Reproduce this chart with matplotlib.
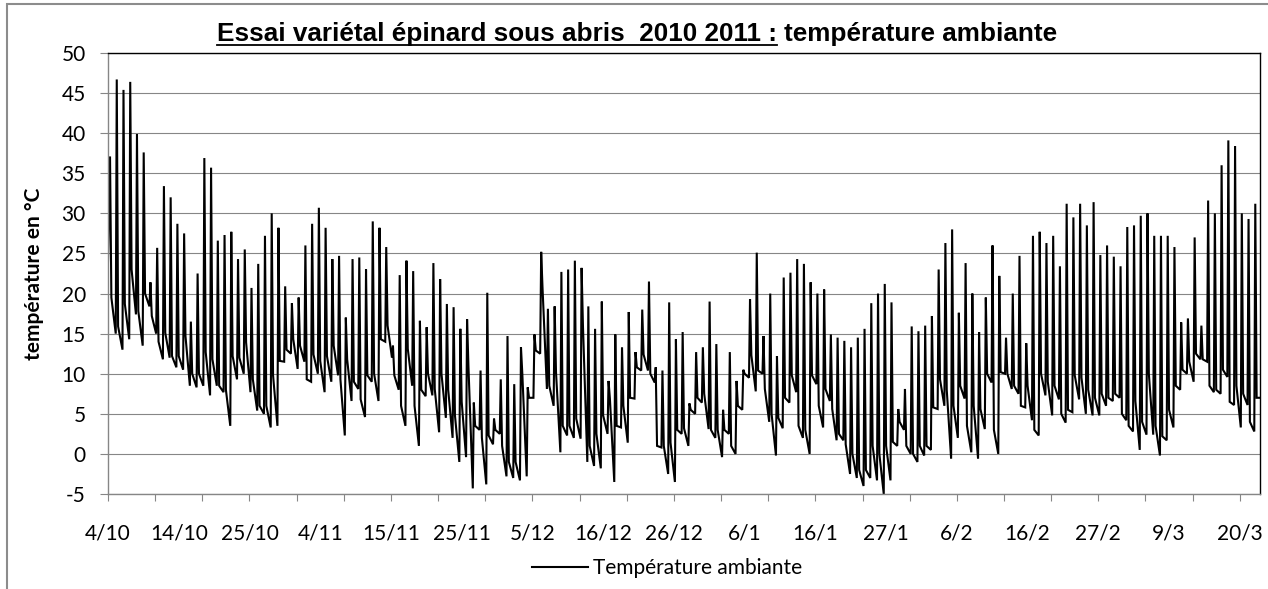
import numpy as np
import matplotlib
matplotlib.use('Agg')
import matplotlib.pyplot as plt
from matplotlib.lines import Line2D
from matplotlib.patches import Rectangle

W, H = 1268, 589

# daily readings: peak, evening plateau, night minimum after the peak
day_max = [
    37.1, 46.7, 45.4, 46.4, 39.9, 37.6, 21.4, 25.7, 33.4, 32.0,
    28.7, 27.5, 16.5, 22.5, 36.9, 35.7, 26.6, 27.3, 27.7, 24.3,
    25.5, 20.7, 23.7, 27.2, 30.0, 28.2, 20.9, 18.8, 19.5, 26.0,
    28.7, 30.7, 28.2, 24.3, 24.7, 17.0, 24.3, 24.5, 23.0, 29.0,
    28.2, 25.8, 13.5, 22.3, 24.1, 22.8, 16.6, 15.8, 23.8, 21.8,
    18.7, 18.3, 15.6, 16.8, 6.4, 10.4, 20.1, 4.4, 9.3, 14.7,
    8.7, 13.3, 8.3, 14.9, 25.2, 18.1, 18.4, 22.7, 23.0, 24.1,
    23.2, 18.4, 15.6, 19.0, 9.1, 14.9, 13.3, 17.7, 12.7, 18.0,
    21.5, 10.8, 10.4, 18.9, 14.3, 15.2, 6.3, 12.7, 13.3, 19.0,
    13.7, 5.5, 12.7, 9.1, 10.5, 19.3, 25.1, 14.7, 20.0, 12.2,
    22.0, 22.6, 24.3, 23.7, 21.4, 20.0, 20.5, 14.9, 14.5, 14.1,
    13.3, 14.5, 15.6, 18.8, 20.0, 21.2, 18.9, 5.6, 8.1, 15.9,
    15.3, 16.0, 17.2, 23.0, 26.3, 28.0, 17.6, 23.8, 20.0, 15.2,
    19.5, 26.0, 22.2, 14.5, 20.0, 24.7, 13.8, 27.2, 27.7, 26.3,
    27.2, 23.4, 31.2, 29.5, 31.2, 28.5, 31.4, 24.8, 26.0, 24.6,
    23.4, 28.3, 28.5, 29.7, 30.0, 27.2, 27.2, 27.2, 25.8, 16.4,
    16.9, 27.0, 16.0, 31.6, 30.0, 36.0, 39.1, 38.4, 30.0, 29.3,
    31.2,
]
day_evening = [
    19.5, 15.9, 18.7, 23.0, 17.8, 20.0, 17.2, 14.0, 15.1, 12.2,
    12.2, 14.7, 10.0, 10.0, 12.7, 11.8, 8.5, 8.0, 12.2, 12.0,
    13.9, 9.3, 6.0, 6.0, 9.8, 11.6, 13.0, 14.3, 13.5, 9.3,
    12.4, 11.6, 12.2, 13.5, 9.3, 11.8, 9.0, 6.8, 9.8, 10.0,
    14.3, 16.0, 9.8, 6.0, 13.1, 6.0, 8.0, 10.0, 8.1, 10.0,
    8.0, 4.8, 6.5, 11.0, 3.5, 2.0, 2.3, 3.0, 1.0, -1.0,
    -1.0, 10.0, 7.0, 12.9, 20.7, 8.5, 10.2, 3.5, 3.5, 4.4,
    16.0, 1.0, 2.5, 4.8, 6.9, 3.5, 6.0, 7.0, 10.8, 12.4,
    10.0, 1.0, 1.0, 1.4, 3.0, 3.2, 5.5, 7.0, 7.5, 3.0,
    3.0, 3.0, 1.0, 6.0, 10.0, 12.3, 10.4, 8.1, 5.0, 4.5,
    7.0, 9.8, 3.5, 3.0, 9.8, 6.0, 8.1, 5.6, 2.5, 1.2,
    0.0, -2.0, -2.0, 1.0, 0.0, 1.0, 1.5, 4.0, 1.0, 0.0,
    1.0, 1.0, 5.8, 9.3, 8.0, 6.0, 8.5, 3.5, 6.0, 5.6,
    10.0, 3.0, 10.2, 10.0, 8.5, 6.0, 8.5, 3.0, 10.0, 9.0,
    8.5, 5.0, 5.5, 9.8, 9.5, 8.0, 7.0, 7.5, 7.0, 7.5,
    5.0, 3.5, 6.6, 4.0, 10.0, 3.5, 2.2, 5.5, 8.5, 10.5,
    11.5, 12.5, 11.8, 8.5, 8.0, 10.5, 6.5, 8.5, 7.5, 4.0,
    7.0,
]
day_min = [
    15.0, 13.0, 14.3, 17.4, 13.5, 18.4, 15.0, 11.8, 12.0, 10.8,
    10.5, 8.5, 8.3, 8.5, 7.3, 8.5, 7.7, 3.5, 9.3, 10.0,
    7.7, 5.4, 5.0, 3.3, 3.5, 11.5, 12.5, 10.6, 11.5, 9.0,
    10.0, 7.7, 9.0, 9.8, 2.3, 6.6, 8.1, 4.6, 9.0, 6.6,
    14.0, 12.0, 8.0, 3.5, 8.5, 1.0, 7.2, 7.3, 2.7, 4.5,
    2.0, -1.0, -0.4, -4.3, 3.0, -3.8, 1.2, 2.5, -2.8, -3.0,
    -3.3, -2.8, 7.0, 12.5, 8.1, 6.0, 0.2, 2.3, 2.0, 1.9,
    -1.0, -1.5, -1.8, 2.5, -3.5, 3.3, 1.4, 6.9, 10.4, 10.4,
    8.9, 0.8, -2.5, -3.5, 2.5, 1.0, 5.0, 6.4, 3.1, 2.0,
    -0.4, 2.5, 0.0, 5.5, 9.5, 7.8, 10.0, 4.0, -0.2, 3.2,
    6.4, 7.7, 2.0, 0.0, 8.7, 3.3, 6.6, 1.7, 1.7, -2.5,
    -3.0, -4.0, -3.0, -3.3, -5.0, -3.3, 1.0, 3.0, 0.0, -1.0,
    -0.2, 0.5, 5.6, 6.0, -0.6, 2.0, 6.9, 0.2, -0.6, 3.1,
    8.9, 0.0, 10.0, 8.1, 7.5, 5.8, 4.2, 2.3, 7.3, 4.8,
    6.8, 3.9, 5.2, 6.8, 5.0, 4.8, 4.8, 6.0, 6.6, 7.0,
    4.2, 2.8, 0.5, 2.4, 2.4, -0.2, 1.7, 3.3, 8.0, 10.0,
    9.0, 11.8, 11.5, 7.7, 7.5, 9.6, 6.1, 3.3, 6.1, 2.8,
    7.0,
]
first_value = 24.0

date_labels = ['4/10', '14/10', '25/10', '4/11', '15/11', '25/11', '5/12',
               '16/12', '26/12', '6/1', '16/1', '27/1', '6/2', '16/2',
               '27/2', '9/3', '20/3']

y_ticks = list(range(-5, 51, 5))

TITLE_UNDERLINED = 'Essai variétal épinard sous abris  2010 2011 :'
TITLE_REST = 'température ambiante'
SERIES_NAME = 'Température ambiante'

GRID = '#868686'
LABEL_FONT = 'Lato'


def build_series():
    # one peak, one evening plateau, one night low per day
    xs, ys = [0.0], [first_value]
    for d, (hi, ev, lo) in enumerate(zip(day_max, day_evening, day_min)):
        xs += [d + 0.3, d + 0.5, d + 1.15]
        ys += [hi, ev, lo]
    return xs, ys


def draw_title(fig, renderer):
    size = 18.8
    base_y = 1 - 41 / H
    t1 = fig.text(0, base_y, TITLE_UNDERLINED, fontsize=size, fontweight='bold',
                  family='Liberation Sans', va='baseline', ha='left')
    t2 = fig.text(0, base_y, TITLE_REST, fontsize=size, fontweight='bold',
                  family='Liberation Sans', va='baseline', ha='left')
    w1 = t1.get_window_extent(renderer).width
    w2 = t2.get_window_extent(renderer).width
    space = 0.278 * size * 100 / 72
    x0 = 637 - (w1 + space + w2) / 2
    t1.set_x(x0 / W)
    t2.set_x((x0 + w1 + space) / W)
    uy = 1 - 45 / H
    fig.add_artist(Line2D([x0 / W, (x0 + w1) / W], [uy, uy], color='black',
                          lw=1.3, transform=fig.transFigure))


def main():
    fig = plt.figure(figsize=(W / 100, H / 100), dpi=100)
    left, right, top, bottom = 108, 1260, 53, 494
    ax = fig.add_axes([left / W, 1 - bottom / H, (right - left) / W, (bottom - top) / H])

    xs, ys = build_series()
    line, = ax.plot(xs, ys, color='black', lw=1.5, solid_joinstyle='miter')

    ax.set_xlim(0, 171)
    ax.set_ylim(-5, 50)

    ax.set_yticks(y_ticks)
    ax.set_yticklabels([str(v) for v in y_ticks], family=LABEL_FONT, fontsize=15)
    ax.yaxis.grid(True, color=GRID, lw=0.8)
    ax.set_axisbelow(True)
    ax.tick_params(axis='y', length=6, width=0.8, color=GRID, pad=10)

    ax.xaxis.remove_overlapping_locs = False
    ax.set_xticks(np.arange(0, 171, 7))
    ax.set_xticks(np.arange(len(date_labels)) * 10.5, minor=True)
    ax.set_xticklabels(date_labels, minor=True, family=LABEL_FONT, fontsize=15)
    ax.tick_params(axis='x', which='major', length=5, width=0.8, color=GRID,
                   labelbottom=False)
    ax.tick_params(axis='x', which='minor', length=0, pad=21)

    for side in ('left', 'bottom'):
        ax.spines[side].set_color(GRID)
        ax.spines[side].set_linewidth(1.0)
    for side in ('top', 'right'):
        ax.spines[side].set_color('black')
        ax.spines[side].set_linewidth(1.0)

    ax.set_ylabel('température en °C', family=LABEL_FONT, fontweight='bold',
                  fontsize=15)
    ax.yaxis.set_label_coords(-(left - 44) / (right - left), 0.5)

    fig.legend([line], [SERIES_NAME], loc='center',
               bbox_to_anchor=(667 / W, 1 - 568 / H), frameon=False,
               prop={'family': LABEL_FONT, 'size': 15},
               handlelength=2.7, handletextpad=0.2)

    # outer chart frame, cut by the image edges on the right and bottom
    fig.add_artist(Rectangle((7 / W, -0.1), 1.2, 1.1 - 4 / H, fill=False,
                             edgecolor='#8c8c8c', lw=1.5,
                             transform=fig.transFigure))

    fig.canvas.draw()
    draw_title(fig, fig.canvas.get_renderer())

    fig.savefig('out.png', dpi=100)


if __name__ == '__main__':
    main()
